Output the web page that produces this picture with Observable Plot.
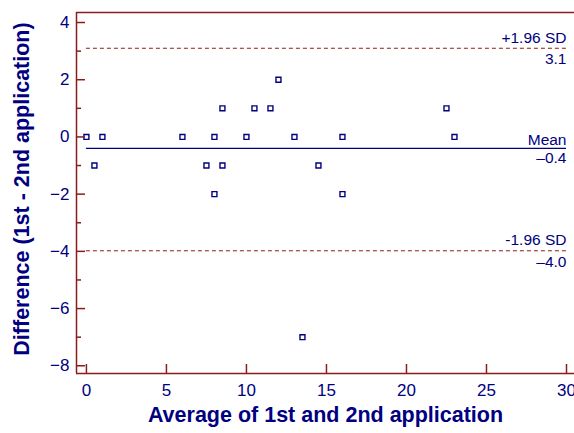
<!DOCTYPE html>
<html><head><meta charset="utf-8">
<script src="https://cdn.jsdelivr.net/npm/d3@7"></script>
<script src="https://cdn.jsdelivr.net/npm/@observablehq/plot@0.6"></script>
<style>body{margin:0;background:#fff;}</style>
</head><body><div id="chart"></div>
<script>
// Data (Bland-Altman plot)
const avg  = [0, 0.5, 1, 6, 7.5, 8, 8, 8.5, 8.5, 10, 10.5, 11.5, 12, 13, 13.5, 14.5, 16, 16, 22.5, 23];
const diff = [0, -1, 0, 0, -1, 0, -2, 1, -1, 0, 1, 1, 2, 0, -7, -1, 0, -2, 1, 0];
const sdValues = [3.1, -3.98];
const sdNames = ["+1.96 SD", "-1.96 SD"];
const sdLabels = ["3.1", "–4.0"];
const meanValue = [-0.4];
const meanName = ["Mean"];
const meanLabel = ["–0.4"];
const xTicks = [0, 5, 10, 15, 20, 25, 30];
const yTicks = [4, 2, 0, -2, -4, -6, -8];
const yMinor = [3, 1, -1, -3, -5, -7];
const xDomain = [-0.62, 30.5];
const yDomain = [-8.27, 4.35];
const lineStart = 0, lineEnd = 30;
const xTitle = "Average of 1st and 2nd application";
const yTitle = "Difference (1st - 2nd application)";

const points = avg.map((a, i) => ({a, d: diff[i]}));
const sd = sdValues.map((v, i) => ({v, name: sdNames[i], label: sdLabels[i]}));
const mean = meanValue.map((v, i) => ({v, name: meanName[i], label: meanLabel[i]}));

const RED = "#8b1c1c", NAVY = "#000080";

const chart = Plot.plot({
  width: 574, height: 433,
  marginLeft: 76, marginRight: 0, marginTop: 12, marginBottom: 60,
  style: {fontFamily: "'Liberation Sans', Arial, sans-serif", background: "#fff", color: NAVY},
  x: {domain: xDomain},
  y: {domain: yDomain},
  marks: [
    // frame lines
    Plot.ruleY([yDomain[1]], {stroke: RED, strokeWidth: 1.5}),
    Plot.ruleY([yDomain[0]], {stroke: RED, strokeWidth: 1.5}),
    Plot.ruleX([xDomain[0]], {stroke: RED, strokeWidth: 1.5}),
    // reference lines
    Plot.ruleY(sd, {y: "v", x1: () => lineStart, x2: () => lineEnd, stroke: RED, strokeWidth: 1, strokeDasharray: "4,3"}),
    Plot.ruleY(mean, {y: "v", x1: () => lineStart, x2: () => lineEnd, stroke: NAVY, strokeWidth: 1.2}),
    // labels
    Plot.text(sd, {x: () => lineEnd, y: "v", text: "name", textAnchor: "end", dy: -10.5, fill: NAVY, fontSize: 15.5}),
    Plot.text(sd, {x: () => lineEnd, y: "v", text: "label", textAnchor: "end", dy: 11, fill: NAVY, fontSize: 15.5}),
    Plot.text(mean, {x: () => lineEnd, y: "v", text: "name", textAnchor: "end", dy: -8.5, fill: NAVY, fontSize: 15.5}),
    Plot.text(mean, {x: () => lineEnd, y: "v", text: "label", textAnchor: "end", dy: 9.5, fill: NAVY, fontSize: 15.5}),
    // points
    Plot.dot(points, {x: "a", y: "d", symbol: "square", r: 2.8, stroke: NAVY, strokeWidth: 1.4, fill: "white"}),
    // axes
    Plot.axisY(yTicks, {anchor: "left", tickSize: -9, tickPadding: 16, stroke: RED, fill: NAVY, strokeWidth: 1.5, fontSize: 17, label: null}),
    Plot.axisY(yMinor, {anchor: "left", tickSize: -5, tickFormat: () => "", stroke: RED, strokeWidth: 1.5, label: null}),
    Plot.axisX(xTicks, {anchor: "bottom", tickSize: -9, tickPadding: 19, stroke: RED, fill: NAVY, strokeWidth: 1.5, fontSize: 17, label: null}),
    // axis titles
    Plot.text([xTitle], {frameAnchor: "bottom", dy: 48, fill: NAVY, fontSize: 21.5, fontWeight: "bold"}),
    Plot.text([yTitle], {frameAnchor: "left", textAnchor: "middle", dx: -54, dy: -4, rotate: -90, fill: NAVY, fontSize: 21.5, fontWeight: "bold"})
  ]
});
document.getElementById("chart").appendChild(chart);
</script>
</body></html>
